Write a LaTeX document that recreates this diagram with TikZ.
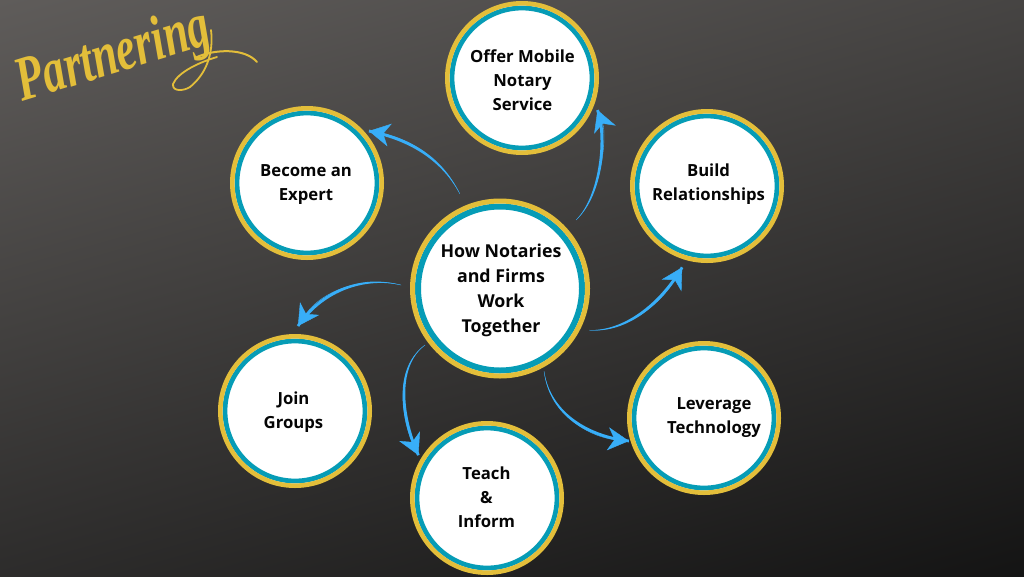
\documentclass[tikz,border=0pt]{standalone}
\usepackage{fontspec}
\setmainfont{Open Sans}
\newfontfamily\scriptface{Liberation Serif}
\usetikzlibrary{calc,arrows.meta}
\definecolor{goldc}{RGB}{227,190,58}
\definecolor{tealc}{RGB}{6,156,182}
\definecolor{bluec}{RGB}{56,174,248}
\definecolor{inkc}{RGB}{5,5,5}
\definecolor{bgtop}{RGB}{98,95,93}
\definecolor{bgbot}{RGB}{17,17,17}
\pgfdeclareverticalshading{bgshade}{1240pt}{color(0pt)=(bgbot); color(900pt)=(bgtop)}
\tikzset{
  disc/.style n args={3}{circle,fill=white,draw=goldc,line width=#2,minimum size=2*#1-#2,inner sep=0pt,
    path picture={\draw[tealc,line width=#3] (path picture bounding box.center) circle[radius=#1-#2-#3/2];}},
  satdisc/.style={disc={77pt}{4.6pt}{4.8pt}},
  hubdisc/.style={disc={90pt}{5pt}{6pt}},
  lbl/.style={align=center,text=inkc,font=\bfseries\fontsize{16.7pt}{24pt}\selectfont,inner sep=0pt},
  hublbl/.style={align=center,text=inkc,font=\bfseries\fontsize{17.8pt}{25pt}\selectfont,inner sep=0pt},
  spokefill/.style={fill=bluec,draw=none},
  spokehead/.style={draw=bluec,line width=.4pt,-{Stealth[length=21pt,width=23pt,inset=6.5pt]}}
}
% #1 id, #2 target, #3 tail angle, #4 tail factor, #5 tip angle, #6 tip factor, #7 c1, #8 c2
\newcommand\spoke[8]{%
  \coordinate (t#1) at ($(hub)!#4!(hub.#3)$);
  \coordinate (h#1) at ($(#2)!#6!(#2.#5)$);
  \coordinate (a#1) at #7;
  \coordinate (b#1) at #8;
  \fill[spokefill] (t#1)
    .. controls ($(a#1)!1.6pt!90:(b#1)$) and ($(b#1)!1.6pt!-90:(a#1)$) .. ($(h#1)!1.4pt!-90:(b#1)$)
    -- ($(h#1)!1.4pt!90:(b#1)$)
    .. controls ($(b#1)!1.6pt!90:(a#1)$) and ($(a#1)!1.6pt!-90:(b#1)$) .. (t#1) -- cycle;
  \draw[spokehead] (t#1) .. controls (a#1) and (b#1) .. (h#1);
}
\begin{document}
\begin{tikzpicture}[x=1pt,y=-1pt]
\useasboundingbox (0,0) rectangle (1024,576);
\begin{scope}
  \clip (0,0) rectangle (1024,576);
  \begin{scope}[shift={(512,288)},rotate=15.7]
    \node[transform shape,inner sep=0pt,outer sep=0pt] (backdrop) at (0,0) {\pgfuseshading{bgshade}};
  \end{scope}
\end{scope}

\node[hubdisc] (hub) at (500,288.5) {};
\node[satdisc] (offer) at (522,78) {};
\node[satdisc] (build) at (707,186) {};
\node[satdisc] (leverage) at (704,418) {};
\node[satdisc] (teach) at (487,498) {};
\node[satdisc] (join) at (295,411) {};
\node[satdisc] (become) at (307,183) {};

\node[hublbl] (hubtext) at (501,290.5) {How Notaries\\and Firms\\Work\\Together};
\node[lbl] (offertext) at (522.5,80) {Offer Mobile\\Notary\\Service};
\node[lbl] (buildtext) at (708.5,184) {Build\\Relationships};
\node[lbl] (levtext) at (714,418) {Leverage\\Technology};
\node[lbl] (teachtext) at (486.5,497) {Teach\\\&\\Inform};
\node[lbl] (jointext) at (293.5,412) {Join\\Groups};
\node[lbl] (becometext) at (306,185) {Become an\\Expert};

\spoke{1}{offer}{42}{1.137}{-23.7}{1.065}{(602,195)}{(607,135)}
\spoke{2}{build}{-25.5}{1.096}{-107.8}{1.105}{(625,332)}{(660,305)}
\spoke{3}{leverage}{-62.8}{1.043}{197.7}{1.02}{(550,415)}{(590,437)}
\spoke{4}{teach}{217}{1.043}{148.7}{1.05}{(394,368)}{(402,420)}
\spoke{5}{join}{178}{1.1}{88.7}{1.104}{(360,275)}{(320,293)}
\spoke{6}{become}{113.5}{1.144}{40}{1.05}{(440,155)}{(405,138)}

\node[text=goldc,inner sep=0pt,rotate=17,xscale=.74,yscale=1.05,font=\scriptface\bfseries\itshape\fontsize{60pt}{60pt}\selectfont] (title) at (114,58) {Partnering};
\draw[goldc,line width=2pt,line cap=round] (197,57) .. controls (215,49) and (245,48) .. (257,62);
\draw[goldc,line width=1.8pt,line cap=round] (217,57) .. controls (200,62) and (178,72) .. (173,84) .. controls (172,92) and (184,91) .. (190,87) .. controls (205,75) and (214,55) .. (211,30);
\end{tikzpicture}
\end{document}
